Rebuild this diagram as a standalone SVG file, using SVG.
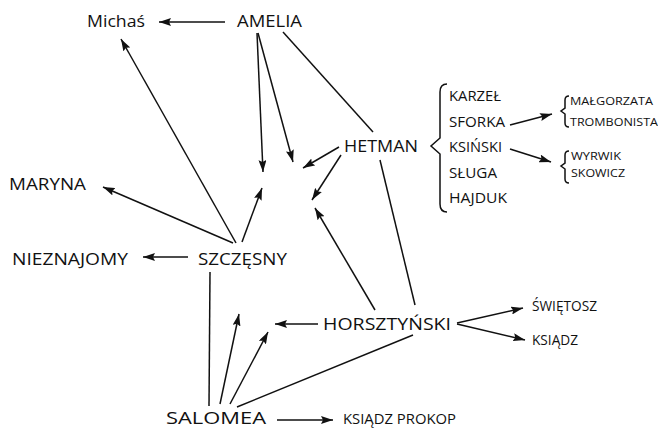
<svg xmlns="http://www.w3.org/2000/svg" width="658" height="430" viewBox="0 0 658 430">
<defs>
<marker id="ah" markerUnits="userSpaceOnUse" markerWidth="13" markerHeight="8" refX="12" refY="4" orient="auto">
<path d="M0,0 L12,4 L0,8 L2,4 z" fill="#111"/>
</marker>
<style>
text{font-family:"Open Sans","Liberation Sans",sans-serif;fill:#111}
.l{font-size:17px}
.m{font-size:14px}
.s{font-size:11px}
.e line{stroke:#111;stroke-width:1.5;fill:none}
.e .a{marker-end:url(#ah)}
.b{stroke:#111;stroke-width:1.5;fill:none}
</style>
</defs>
<rect width="658" height="430" fill="#fff"/>
<g class="e" id="connectors">
<line class="a" x1="225" y1="22" x2="159" y2="22"/>
<line class="a" x1="236" y1="243" x2="121" y2="39"/>
<line class="a" x1="257" y1="33" x2="263" y2="172"/>
<line class="a" x1="258" y1="33" x2="293" y2="162"/>
<line x1="283" y1="32" x2="373" y2="132"/>
<line class="a" x1="339" y1="147" x2="303" y2="168"/>
<line class="a" x1="341" y1="155" x2="312" y2="200"/>
<line x1="380" y1="160" x2="415" y2="305"/>
<line class="a" x1="375" y1="310" x2="315" y2="208"/>
<line class="a" x1="233" y1="243" x2="103" y2="187"/>
<line class="a" x1="242" y1="242" x2="262" y2="188"/>
<line class="a" x1="188" y1="257" x2="143" y2="257"/>
<line x1="210" y1="272" x2="209" y2="406"/>
<line class="a" x1="220" y1="404" x2="239" y2="314"/>
<line class="a" x1="230" y1="404" x2="268" y2="332"/>
<line class="a" x1="318" y1="324" x2="275" y2="324"/>
<line x1="413" y1="335" x2="237" y2="407"/>
<line class="a" x1="277" y1="420" x2="333" y2="420"/>
<line class="a" x1="457" y1="323" x2="523" y2="308"/>
<line class="a" x1="457" y1="324" x2="525" y2="340"/>
<line class="a" x1="510" y1="125" x2="552" y2="114"/>
<line class="a" x1="510" y1="149" x2="551" y2="162"/>
</g>
<g id="michas"><text class="l" x="87" y="27" textLength="58" lengthAdjust="spacingAndGlyphs">Michaś</text></g>
<g id="amelia"><text class="l" x="237" y="27" textLength="65" lengthAdjust="spacingAndGlyphs">AMELIA</text></g>
<g id="hetman"><text class="l" x="344" y="152" textLength="74" lengthAdjust="spacingAndGlyphs">HETMAN</text></g>
<g id="hetman-group">
<path class="b" d="M447,84 Q440,84 440,92 L440,138 L431,146 L440,154 L440,204 Q440,212 447,212"/>
<text class="m" x="449" y="101" textLength="52" lengthAdjust="spacingAndGlyphs">KARZEŁ</text>
<text class="m" x="449" y="127" textLength="56" lengthAdjust="spacingAndGlyphs">SFORKA</text>
<text class="m" x="449" y="152" textLength="53" lengthAdjust="spacingAndGlyphs">KSIŃSKI</text>
<text class="m" x="449" y="178" textLength="48" lengthAdjust="spacingAndGlyphs">SŁUGA</text>
<text class="m" x="449" y="203" textLength="58" lengthAdjust="spacingAndGlyphs">HAJDUK</text>
</g>
<g id="sforka-group">
<path class="b" d="M569,96 Q565,96 565,100 L565,108 L561,111 L565,114 L565,123 Q565,127 569,127" stroke-width="1.2"/>
<text class="s" x="570" y="105" textLength="83" lengthAdjust="spacingAndGlyphs">MAŁGORZATA</text>
<text class="s" x="570" y="126" textLength="88" lengthAdjust="spacingAndGlyphs">TROMBONISTA</text>
</g>
<g id="ksinski-group">
<path class="b" d="M569,151 Q565,151 565,155 L565,163 L561,166 L565,169 L565,179 Q565,183 569,183" stroke-width="1.2"/>
<text class="s" x="571" y="160" textLength="50" lengthAdjust="spacingAndGlyphs">WYRWIK</text>
<text class="s" x="571" y="177" textLength="54" lengthAdjust="spacingAndGlyphs">SKOWICZ</text>
</g>
<g id="maryna"><text class="l" x="9" y="190" textLength="77" lengthAdjust="spacingAndGlyphs">MARYNA</text></g>
<g id="nieznajomy"><text class="l" x="12" y="265" textLength="116" lengthAdjust="spacingAndGlyphs">NIEZNAJOMY</text></g>
<g id="szczesny"><text class="l" x="198" y="265" textLength="89" lengthAdjust="spacingAndGlyphs">SZCZĘSNY</text></g>
<g id="horsztynski"><text class="l" x="323" y="330" textLength="128" lengthAdjust="spacingAndGlyphs">HORSZTYŃSKI</text></g>
<g id="swietosz"><text class="m" x="532" y="311" font-size="13" textLength="65" lengthAdjust="spacingAndGlyphs">ŚWIĘTOSZ</text></g>
<g id="ksiadz"><text class="m" x="532" y="345" font-size="13" textLength="46" lengthAdjust="spacingAndGlyphs">KSIĄDZ</text></g>
<g id="salomea"><text class="l" x="166" y="424" textLength="100" lengthAdjust="spacingAndGlyphs">SALOMEA</text></g>
<g id="ksiadz-prokop"><text class="m" x="343" y="424" font-size="13" textLength="113" lengthAdjust="spacingAndGlyphs">KSIĄDZ PROKOP</text></g>
</svg>
